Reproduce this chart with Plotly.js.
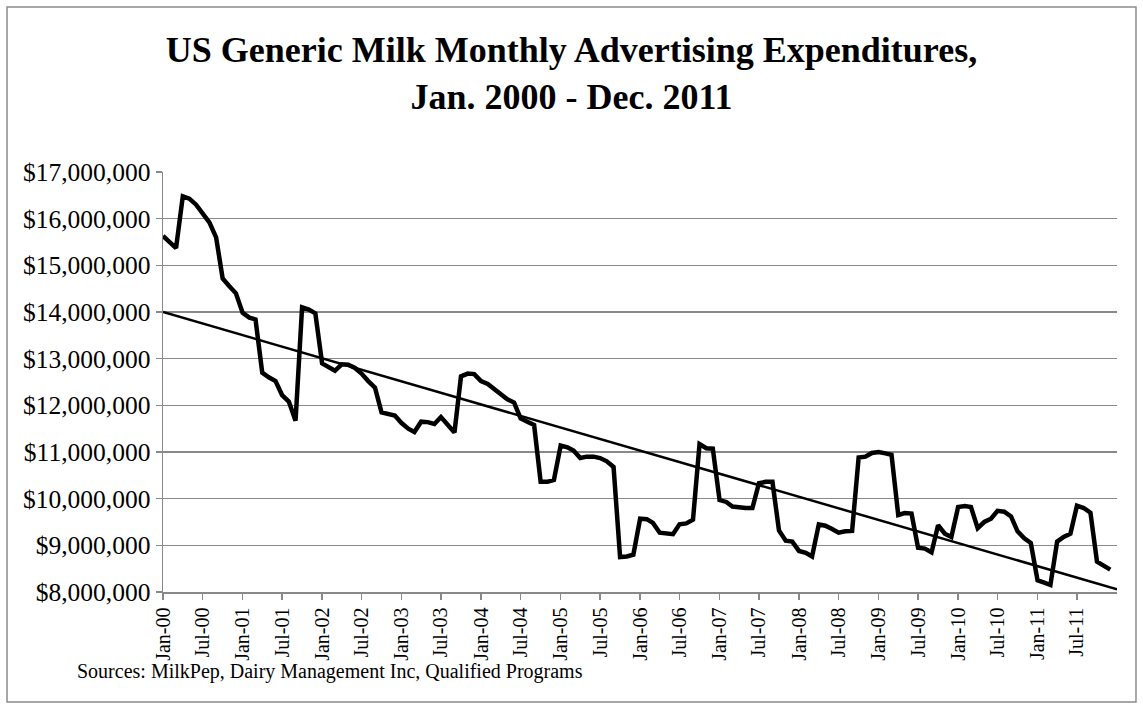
<!DOCTYPE html>
<html>
<head>
<meta charset="utf-8">
<script src="https://cdn.plot.ly/plotly-3.0.1.min.js"></script>
<style>html,body{margin:0;padding:0;background:#fff;}#chart{width:1143px;height:709px;}</style>
</head>
<body>
<div id="chart"></div>
<script>
// Monthly expenditures in millions of dollars, Jan 2000 - Dec 2011
const years = [2000,2001,2002,2003,2004,2005,2006,2007,2008,2009,2010,2011];
const y2000 = [15.63,15.50,15.37,16.48,16.43,16.30,16.10,15.92,15.60,14.72,14.55,14.40];
const y2001 = [13.98,13.88,13.84,12.70,12.60,12.52,12.22,12.08,11.67,14.10,14.05,13.97];
const y2002 = [12.90,12.82,12.74,12.88,12.87,12.80,12.68,12.52,12.38,11.85,11.82,11.78];
const y2003 = [11.62,11.50,11.43,11.65,11.64,11.60,11.75,11.60,11.42,12.62,12.68,12.67];
const y2004 = [12.52,12.46,12.36,12.25,12.13,12.06,11.72,11.65,11.58,10.36,10.36,10.40];
const y2005 = [11.14,11.10,11.03,10.87,10.90,10.90,10.87,10.80,10.68,8.75,8.76,8.80];
const y2006 = [9.57,9.56,9.48,9.27,9.25,9.24,9.45,9.47,9.55,11.17,11.08,11.07];
const y2007 = [9.97,9.93,9.83,9.81,9.80,9.80,10.33,10.36,10.36,9.32,9.10,9.08];
const y2008 = [8.88,8.84,8.76,9.45,9.42,9.35,9.27,9.30,9.31,10.88,10.90,10.98];
const y2009 = [11.00,10.97,10.94,9.65,9.69,9.68,8.95,8.93,8.85,9.43,9.25,9.18];
const y2010 = [9.82,9.84,9.82,9.37,9.50,9.57,9.74,9.72,9.62,9.30,9.15,9.05];
const y2011 = [8.25,8.20,8.15,9.08,9.18,9.25,9.85,9.80,9.70,8.65,8.55,8.48];
// Linear trend line endpoints (millions of dollars)
const trendDates = ['2000-01-01','2012-01-01'];
const trendValues = [14.0, 8.06];

const titleText = 'US Generic Milk Monthly Advertising Expenditures,<br>Jan. 2000 - Dec. 2011';
const sourceText = 'Sources: MilkPep, Dairy Management Inc, Qualified Programs';

const yearly = [y2000,y2001,y2002,y2003,y2004,y2005,y2006,y2007,y2008,y2009,y2010,y2011];
const dates = [], values = [];
years.forEach((yr, i) => {
  yearly[i].forEach((v, m) => {
    dates.push(yr + '-' + String(m + 1).padStart(2, '0') + '-01');
    values.push(v * 1e6);
  });
});

const serif = '"Liberation Serif", "Times New Roman", serif';
const grid = '#898989';

const traces = [
  {x: dates, y: values, type: 'scatter', mode: 'lines',
   line: {color: '#000', width: 4.5}, hoverinfo: 'x+y'},
  {x: trendDates, y: trendValues.map(v => v * 1e6), type: 'scatter', mode: 'lines',
   line: {color: '#000', width: 2.5}, hoverinfo: 'skip'}
];

const layout = {
  width: 1143, height: 709,
  margin: {l: 163, r: 26, t: 172, b: 117},
  paper_bgcolor: '#fff', plot_bgcolor: '#fff',
  showlegend: false,
  font: {family: serif, color: '#000'},
  title: {text: titleText, x: 0.5, xanchor: 'center', y: 0.912, yanchor: 'top',
          font: {family: serif, size: 36, color: '#000', weight: 'bold'}},
  xaxis: {type: 'date', range: ['2000-01-01', '2012-01-01'],
          tickvals: dates.filter((d, i) => i % 6 === 0), tickformat: '%b-%y',
          tickangle: -90, tickfont: {family: serif, size: 20, color: '#000'},
          showgrid: false, zeroline: false, showline: true, linecolor: grid, linewidth: 1.5,
          ticks: 'outside', ticklen: 6, tickcolor: grid, tickwidth: 1.5},
  yaxis: {range: [8e6, 17e6], dtick: 1e6, tick0: 8e6, tickformat: '$,.0f',
          tickfont: {family: serif, size: 25.5, color: '#000'},
          showgrid: true, gridcolor: grid, gridwidth: 1.5, zeroline: false,
          showline: true, linecolor: grid, linewidth: 1.5,
          ticks: 'outside', ticklen: 6, tickcolor: grid, tickwidth: 1.5},
  annotations: [{text: sourceText, xref: 'paper', yref: 'paper',
                 x: -0.092, y: -0.19, xanchor: 'left', yanchor: 'middle', showarrow: false,
                 font: {family: serif, size: 20, color: '#000'}}],
  shapes: [{type: 'rect', xref: 'paper', yref: 'paper',
            x0: -0.1635, x1: 1.0199, y0: -0.262, y1: 1.393,
            line: {color: '#8c8c8c', width: 1.5}, fillcolor: 'rgba(0,0,0,0)', layer: 'below'}]
};

Plotly.newPlot('chart', traces, layout, {displayModeBar: false, staticPlot: true});
</script>
</body>
</html>
